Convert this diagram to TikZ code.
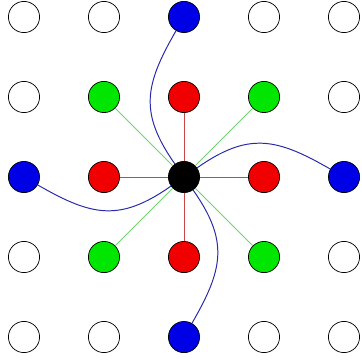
\documentclass[tikz,border=0pt]{standalone}
\usetikzlibrary{positioning}

\definecolor{dotred}{RGB}{240,0,0}
\definecolor{dotgreen}{RGB}{0,230,0}
\definecolor{dotblue}{RGB}{0,0,230}
\definecolor{spokered}{RGB}{200,70,70}
\definecolor{spokegreen}{RGB}{110,210,110}
\definecolor{swirlblue}{RGB}{40,40,170}

\begin{document}
\begin{tikzpicture}[
  x=0.025cm, y=-0.025cm,
  on grid, node distance=2cm and 2cm,
  dot/.style={circle, draw=black, line width=0.5pt, minimum size=0.78cm, inner sep=0pt, fill=white},
  hub/.style={dot, fill=black},
  near/.style={dot, fill=dotred},
  diag/.style={dot, fill=dotgreen},
  far/.style={dot, fill=dotblue},
  rspoke/.style={draw=spokered, line width=0.6pt},
  gspoke/.style={draw=spokegreen, line width=0.6pt},
  swirl/.style={draw=swirlblue, line width=0.7pt}
]
  \useasboundingbox (0,0) rectangle (362,362);

  % empty grid points
  \foreach \p/\q in {0/0,1/0,3/0,4/0,0/1,4/1,0/3,4/3,0/4,1/4,3/4,4/4}
    \node[dot] (d\p\q) at (24+80*\p, 17+80*\q) {};

  % centre and its neighbours
  \node[hub] (hub) at (184,177) {};
  \node[near, above=of hub] (nN) {};
  \node[near, below=of hub] (nS) {};
  \node[near, left=of hub] (nW) {};
  \node[near, right=of hub] (nE) {};
  \node[diag, above left=of hub] (gNW) {};
  \node[diag, above right=of hub] (gNE) {};
  \node[diag, below left=of hub] (gSW) {};
  \node[diag, below right=of hub] (gSE) {};
  \node[far, above=of nN] (bN) {};
  \node[far, below=of nS] (bS) {};
  \node[far, left=of nW] (bW) {};
  \node[far, right=of nE] (bE) {};

  \foreach \t in {nN,nS,nW,nE}
    \draw[rspoke] (hub) -- (\t);
  \foreach \t in {gNW,gNE,gSW,gSE}
    \draw[gspoke] (hub) -- (\t);

  \draw[swirl] (hub) to[out=125, in=240, looseness=1.2] (bN);
  \draw[swirl] (hub) to[out=35, in=150, looseness=1.2] (bE);
  \draw[swirl] (hub) to[out=305, in=60, looseness=1.2] (bS);
  \draw[swirl] (hub) to[out=215, in=330, looseness=1.2] (bW);
\end{tikzpicture}
\end{document}
